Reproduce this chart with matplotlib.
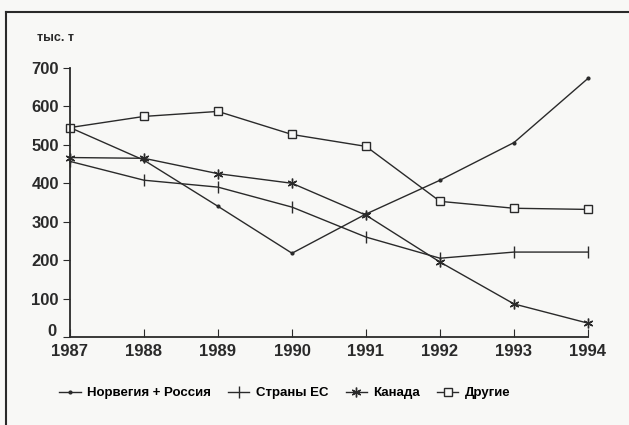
import matplotlib as mpl
import numpy as np
from matplotlib import pyplot as plt
from matplotlib.lines import Line2D

mpl.rcParams['font.family'] = ['Liberation Sans', 'DejaVu Sans']

years = [1987, 1988, 1989, 1990, 1991, 1992, 1993, 1994]
norway_russia = [545, 460, 340, 218, 320, 408, 506, 673]
eu = [457, 408, 390, 338, 260, 205, 221, 221]
canada = [467, 465, 425, 400, 317, 195, 86, 36]
others = [545, 574, 587, 527, 496, 353, 335, 332]
labels = ["Норвегия + Россия", "Страны ЕС", "Канада", "Другие"]

ink = '#2a2a2a'
paper = '#f8f8f6'

fig = plt.figure(figsize=(6.29, 4.25), dpi=100, facecolor=paper)
ax = fig.add_axes([70/629, 1 - 337/425, 518/629, 269/425])
ax.set_facecolor(paper)

styles = [
    dict(marker='o', markersize=2),
    dict(marker='|', markersize=8, markeredgewidth=1),
    dict(marker=(6, 2, 0), markersize=7, markeredgewidth=1),
    dict(marker='s', markersize=6, markerfacecolor=paper, markeredgewidth=1),
]
for data, st in zip([norway_russia, eu, canada, others], styles):
    ax.plot(years, data, color=ink, linewidth=1, clip_on=False, **st)

ax.set_xlim(1987, 1994)
ax.set_ylim(0, 700)
ax.spines['top'].set_visible(False)
ax.spines['right'].set_visible(False)
for s in ('left', 'bottom'):
    ax.spines[s].set_color(ink)
    ax.spines[s].set_linewidth(1.3)

ax.set_yticks(np.arange(0, 701, 100))
ax.set_xticks(years)
ax.tick_params(axis='y', direction='out', length=5, color=ink, labelsize=12, pad=3)
ax.tick_params(axis='x', direction='in', length=6, color=ink, labelsize=12, pad=5)
for t in ax.get_xticklabels() + ax.get_yticklabels():
    t.set_fontweight('bold')
    t.set_color(ink)
ax.yaxis.get_major_ticks()[0].label1.set_visible(False)
fig.text(52/629, 1 - 331/425, '0', fontsize=12, fontweight='bold', color=ink, ha='center', va='center')

fig.text(37/629, 1 - 38/425, 'тыс. т', fontsize=9, fontweight='bold', color=ink, va='center')

handles = [Line2D([], [], color=ink, linewidth=1, **st) for st in styles]
fig.legend(handles, labels, loc='center', bbox_to_anchor=(285/629, 1 - 393/425), ncol=4,
           frameon=False, handlelength=1.6, columnspacing=1.3, handletextpad=0.5,
           prop={'weight': 'bold', 'size': 9.5})

# frame of the scanned page
fig.add_artist(Line2D([6/629, 628/629], [1 - 12/425, 1 - 12/425], color=ink, linewidth=1.5))
fig.add_artist(Line2D([6/629, 6/629], [0, 1 - 12/425], color=ink, linewidth=1.5))

fig.savefig('out.png', dpi=100, facecolor=paper)
